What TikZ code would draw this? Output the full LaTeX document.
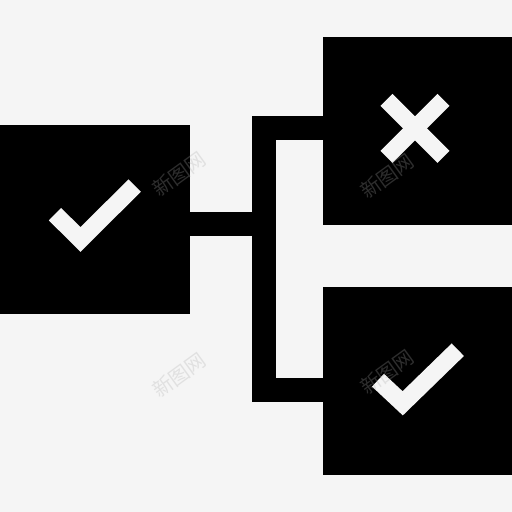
\documentclass[tikz,border=0pt]{standalone}
\usepackage{fontspec}
\newfontfamily\cjk{Noto Sans CJK SC}
\definecolor{bgc}{RGB}{245,245,245}
\definecolor{wmc}{RGB}{170,170,170}
\begin{document}
\begin{tikzpicture}[x=1pt,y=-1pt,
  box/.style={fill=black,draw=none,inner sep=0pt,outer sep=0pt,anchor=north west},
  conn/.style={draw=black,line width=23.4pt,line join=miter,line cap=butt},
  glyph/.style={draw=bgc,line width=17.5pt,line join=miter,line cap=butt},
  wm/.style={font=\cjk\fontsize{20}{20}\selectfont,text=wmc,text opacity=0.27,rotate=36,inner sep=0pt}]
\fill[bgc] (0,0) rectangle (512,512);
\useasboundingbox (0,0) rectangle (512,512);
\node[box,minimum width=190pt,minimum height=189pt] (left) at (0,125) {};
\node[box,minimum width=189.3pt,minimum height=188.3pt] (tr) at (322.7,36.7) {};
\node[box,minimum width=189.3pt,minimum height=188.3pt] (br) at (322.7,286.7) {};
\coordinate (jt) at (264,128);
\coordinate (jm) at (264,224);
\coordinate (jb) at (264,390);
\draw[conn] (tr.west |- jt) -- (jt) -- (jb) -- (br.west |- jb);
\draw[conn] (left.east |- jm) -- (jm);
% check in left box
\draw[glyph] (55,214.2) -- (80.5,239.5) -- (134.7,185.5);
% check in bottom-right box
\draw[glyph] (378,380.2) -- (402.7,403.3) -- (457.8,349.7);
% cross in top-right box
\draw[glyph,line width=17pt] (386.5,99.8) -- (443.5,156.8);
\draw[glyph,line width=17pt] (443.5,99.8) -- (386.5,156.8);
% watermarks
\node[wm] (w1) at (179,174) {新图网};
\node[wm] (w2) at (387,176) {新图网};
\node[wm] (w3) at (179,375) {新图网};
\node[wm] (w4) at (387,372) {新图网};
\end{tikzpicture}
\end{document}
